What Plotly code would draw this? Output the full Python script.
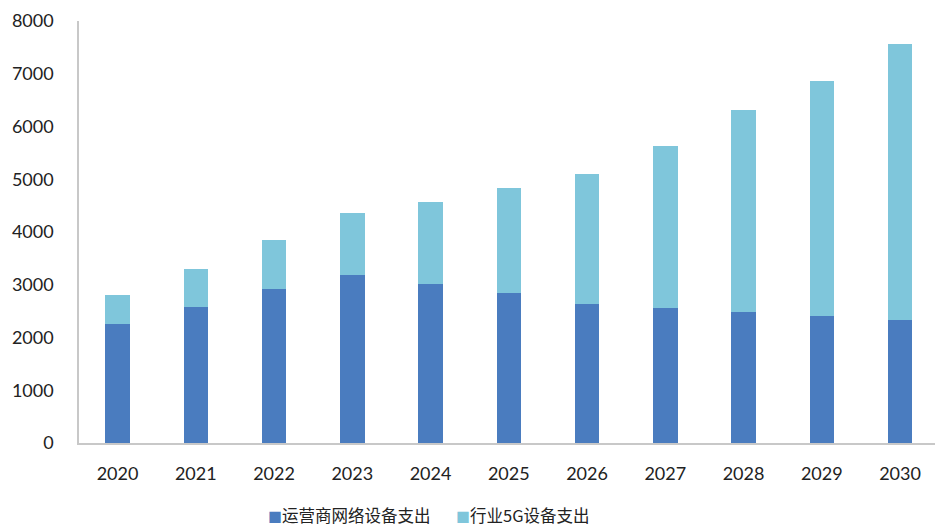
import plotly.graph_objects as go

# Equipment spending by year (stacked)
years = ["2020", "2021", "2022", "2023", "2024", "2025", "2026", "2027", "2028", "2029", "2030"]
operator_network = [2250, 2585, 2915, 3185, 3010, 2850, 2630, 2550, 2475, 2400, 2325]
industry_5g = [555, 705, 935, 1175, 1550, 1990, 2465, 3080, 3835, 4455, 5240]
y_ticks = [0, 1000, 2000, 3000, 4000, 5000, 6000, 7000, 8000]
series_names = ["运营商网络设备支出", "行业5G设备支出"]

DARK = "#4A7CBF"
LIGHT = "#7FC6DB"
FONT = "Lato, 'Noto Sans CJK SC', sans-serif"
CJK = "'Noto Sans CJK SC', sans-serif"

W, H = 935, 529
M_L, M_R, M_T, M_B = 79, 0, 21, 86
plot_w = W - M_L - M_R
plot_h = H - M_T - M_B

fig = go.Figure()
fig.add_trace(go.Bar(x=years, y=operator_network, name=series_names[0],
                     marker=dict(color=DARK, line=dict(width=0))))
fig.add_trace(go.Bar(x=years, y=industry_5g, name=series_names[1],
                     marker=dict(color=LIGHT, line=dict(width=0))))

# Legend row under the axis: coloured square followed by the series name
legend_y = -(515 - (H - M_B)) / plot_h
for name, color, px in [(series_names[0], DARK, 266), (series_names[1], LIGHT, 454)]:
    fig.add_annotation(
        x=(px - M_L) / plot_w, y=legend_y, xref="paper", yref="paper",
        xanchor="left", yanchor="middle", showarrow=False,
        text=f"<span style='color:{color};font-size:14px'>■</span>{name}",
        font=dict(family=CJK, size=16.5, color="#222222"),
    )

fig.update_layout(
    barmode="stack",
    bargap=0.687,
    width=W, height=H,
    margin=dict(l=M_L, r=M_R, t=M_T, b=M_B, autoexpand=False),
    plot_bgcolor="white", paper_bgcolor="white",
    font=dict(family=FONT, size=18, color="#222222"),
    showlegend=False,
)
fig.update_xaxes(
    type="category", range=[-0.492, 10.447],
    showline=True, linecolor="#c8c8c8", linewidth=1.5,
    ticks="", showgrid=False, ticklabelstandoff=14,
    tickfont=dict(family=FONT, size=18, color="#222222"),
)
fig.update_yaxes(
    range=[0, 8000], tickvals=y_ticks,
    showline=True, linecolor="#c8c8c8", linewidth=1.5,
    ticks="", showgrid=False, zeroline=False, ticklabelstandoff=20,
    tickfont=dict(family=FONT, size=18, color="#222222"),
)

fig.write_html("out.html")
